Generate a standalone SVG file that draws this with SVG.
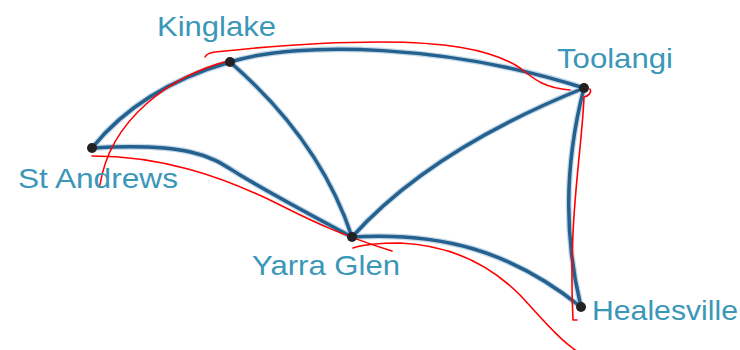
<svg xmlns="http://www.w3.org/2000/svg" width="740" height="350" viewBox="0 0 740 350">
<style>
.edge{fill:none;stroke:#24618f;stroke-width:3.5;stroke-linecap:round}
.glow{fill:none;stroke:#9fc0d8;stroke-width:6;stroke-linecap:round;opacity:0.6}
.red{fill:none;stroke:#ff0000;stroke-width:1.6;stroke-linecap:round;stroke-linejoin:round}
.dot{fill:#222}
.lbl{font-family:"Comic Sans MS","Liberation Sans",sans-serif;font-size:28px;fill:#3b97b8}
</style>
<rect width="740" height="350" fill="#fff"/>
<g id="connectors">
<g class="glow">
<path d="M92,148 Q140,88 230,62"/>
<path d="M230,62 C300,40 450,45 584,88"/>
<path d="M230,62 Q320,140 352,237"/>
<path d="M92,148 C200,142 215,160 240,175 S320,220 352,237"/>
<path d="M352,237 Q430,150 584,88"/>
<path d="M584,88 Q555,200 581,307"/>
<path d="M352,237 C440,232 510,250 581,307"/>
</g>
<g class="edge">
<path d="M92,148 Q140,88 230,62"/>
<path d="M230,62 C300,40 450,45 584,88"/>
<path d="M230,62 Q320,140 352,237"/>
<path d="M92,148 C200,142 215,160 240,175 S320,220 352,237"/>
<path d="M352,237 Q430,150 584,88"/>
<path d="M584,88 Q555,200 581,307"/>
<path d="M352,237 C440,232 510,250 581,307"/>
</g>
</g>
<g id="annotations" class="red">
<path d="M205,57 Q207,53 215,52 C280,45 340,42 380,42 C440,42 490,48 520,68 C535,80 545,88 570,90"/>
<path d="M590,89 C592,93 588,96 584,97 C582,150 568,220 573,320 L577,320"/>
<path d="M232,60 C170,75 110,120 100,185"/>
<path d="M92,156 C160,156 220,175 280,205 C310,220 340,235 392,251"/>
<path d="M353,248 C365,244 380,243 400,243 C450,245 490,265 520,295 C545,322 560,340 578,352"/>
</g>
<g id="kinglake"><circle class="dot" cx="230" cy="62" r="5"/><text class="lbl" x="157" y="36" textLength="119" lengthAdjust="spacingAndGlyphs">Kinglake</text></g>
<g id="toolangi"><circle class="dot" cx="584" cy="88" r="5"/><text class="lbl" x="557" y="68" textLength="116" lengthAdjust="spacingAndGlyphs">Toolangi</text></g>
<g id="standrews"><circle class="dot" cx="92" cy="148" r="5"/><text class="lbl" x="18" y="188" textLength="160" lengthAdjust="spacingAndGlyphs">St Andrews</text></g>
<g id="yarraglen"><circle class="dot" cx="352" cy="237" r="5"/><text class="lbl" x="252" y="275" textLength="148" lengthAdjust="spacingAndGlyphs">Yarra Glen</text></g>
<g id="healesville"><circle class="dot" cx="581" cy="307" r="5"/><text class="lbl" x="592" y="320" textLength="146" lengthAdjust="spacingAndGlyphs">Healesville</text></g>
</svg>
